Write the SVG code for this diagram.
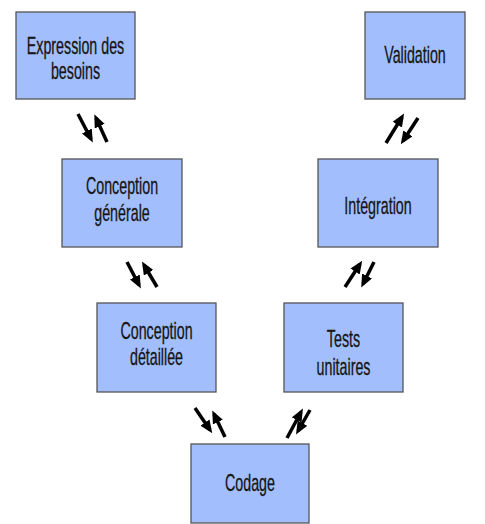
<svg xmlns="http://www.w3.org/2000/svg" width="485" height="524" viewBox="0 0 485 524">
<style>
.box{fill:#A3BEFC;stroke:#555;stroke-width:1.3}
.t{font-family:"Liberation Sans",Arial,sans-serif;font-size:23px;fill:#151515;text-anchor:middle;stroke:#151515;stroke-width:0.3}
.arr{stroke:#000;stroke-width:3.5;fill:none;marker-end:url(#ah)}
</style>
<defs>
<marker id="ah" markerUnits="userSpaceOnUse" markerWidth="13" markerHeight="11" refX="9" refY="5.5" orient="auto">
<path d="M0,0 L13,5.5 L0,11 z" fill="#000"/>
</marker>
</defs>
<rect width="485" height="524" fill="#fff"/>
<g id="expression">
<rect class="box" x="16" y="12" width="119" height="87"/>
<g transform="translate(75.5,0) scale(0.62,1)"><text class="t" x="0" y="54">Expression des</text><text class="t" x="0" y="79">besoins</text></g>
</g>
<g id="validation">
<rect class="box" x="365" y="12" width="100" height="87"/>
<g transform="translate(415,0) scale(0.62,1)"><text class="t" x="0" y="63">Validation</text></g>
</g>
<g id="conception-generale">
<rect class="box" x="62" y="159" width="120" height="88"/>
<g transform="translate(122,0) scale(0.62,1)"><text class="t" x="0" y="194">Conception</text><text class="t" x="0" y="221">générale</text></g>
</g>
<g id="integration">
<rect class="box" x="318" y="159" width="120" height="88"/>
<g transform="translate(378,0) scale(0.62,1)"><text class="t" x="0" y="214">Intégration</text></g>
</g>
<g id="conception-detaillee">
<rect class="box" x="97" y="303" width="119" height="89"/>
<g transform="translate(156.5,0) scale(0.62,1)"><text class="t" x="0" y="339">Conception</text><text class="t" x="0" y="365">détaillée</text></g>
</g>
<g id="tests-unitaires">
<rect class="box" x="284" y="303" width="119" height="89"/>
<g transform="translate(343.5,0) scale(0.62,1)"><text class="t" x="0" y="347">Tests</text><text class="t" x="0" y="375">unitaires</text></g>
</g>
<g id="codage">
<rect class="box" x="191" y="444" width="118" height="79"/>
<g transform="translate(250,0) scale(0.62,1)"><text class="t" x="0" y="491">Codage</text></g>
</g>
<g id="connectors">
<line class="arr" x1="78" y1="114" x2="91" y2="139"/>
<line class="arr" x1="107" y1="142" x2="96" y2="118"/>
<line class="arr" x1="127" y1="262" x2="139" y2="285"/>
<line class="arr" x1="157" y1="287" x2="144" y2="265"/>
<line class="arr" x1="195" y1="408" x2="210" y2="430"/>
<line class="arr" x1="225" y1="437" x2="214" y2="414"/>
<line class="arr" x1="287" y1="438" x2="301" y2="412"/>
<line class="arr" x1="310" y1="410" x2="298" y2="431"/>
<line class="arr" x1="345" y1="287" x2="360" y2="264"/>
<line class="arr" x1="374" y1="262" x2="363" y2="284"/>
<line class="arr" x1="386" y1="143" x2="402" y2="117"/>
<line class="arr" x1="418" y1="118" x2="403" y2="141"/>
</g>
</svg>
